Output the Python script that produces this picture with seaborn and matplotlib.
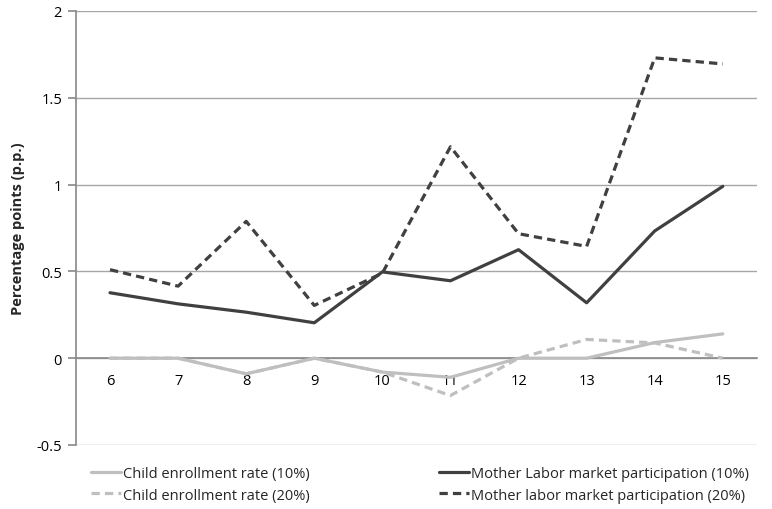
import matplotlib
matplotlib.use("Agg")
import matplotlib.pyplot as plt
import seaborn as sns
import pandas as pd
import numpy as np
from matplotlib.ticker import FixedLocator

ages = [6, 7, 8, 9, 10, 11, 12, 13, 14, 15]
child10 = [0, 0, -0.09, 0, -0.08, -0.11, 0, 0, 0.09, 0.14]
child20 = [0, 0, -0.09, 0, -0.08, -0.215, 0, 0.108, 0.088, 0]
mother10 = [0.377, 0.313, 0.265, 0.204, 0.497, 0.446, 0.625, 0.319, 0.733, 0.99]
mother20 = [0.51, 0.415, 0.788, 0.304, 0.49, 1.218, 0.717, 0.644, 1.73, 1.695]
names = ["Child enrollment rate (10%)", "Child enrollment rate (20%)",
         "Mother Labor market participation (10%)", "Mother labor market participation (20%)"]
yticks = [-0.5, 0, 0.5, 1, 1.5, 2]
ytick_labels = ["-0.5", "0", "0.5", "1", "1.5", "2"]

sns.set_theme(style="white")
plt.rcParams['font.family'] = ['Open Sans', 'DejaVu Sans']

rows = []
for name, vals in zip(names, [child10, child20, mother10, mother20]):
    for a, v in zip(ages, vals):
        rows.append({"age": a, "value": v, "series": name})
df = pd.DataFrame(rows)

light = "#BFBFBF"
dark = "#404040"
palette = {names[0]: light, names[1]: light, names[2]: dark, names[3]: dark}
dashes = {names[0]: "", names[1]: (2.6, 1.6), names[2]: "", names[3]: (2.6, 1.6)}

fig = plt.figure(figsize=(7.72, 5.10), dpi=100)
ax = fig.add_axes([0.0984, 0.1255, 0.882, 0.851])

sns.lineplot(data=df, x="age", y="value", hue="series", style="series",
             hue_order=names, style_order=names, palette=palette, dashes=dashes,
             linewidth=2.3, ax=ax, legend=True)

ax.set_ylim(-0.5, 2)
ax.set_xlim(5.5, 15.5)
ax.set_yticks(yticks)
ax.set_yticklabels(ytick_labels, fontsize=10.5, color="#000000")
ax.yaxis.grid(True, color="#A6A6A6", linewidth=1)
ax.set_axisbelow(True)

for s in ["top", "right"]:
    ax.spines[s].set_visible(False)
ax.spines["left"].set_color("#8C8C8C")
ax.spines["bottom"].set_color("#8C8C8C")
ax.spines["bottom"].set_position(("data", 0))
ax.spines["bottom"].set_zorder(1)

ax.set_xticks(ages)
ax.set_xticklabels([str(a) for a in ages], fontsize=10.5, color="#000000")
ax.xaxis.set_minor_locator(FixedLocator([a + 0.5 for a in ages[:-1]]))
ax.tick_params(axis="x", which="major", length=0, pad=11)
ax.tick_params(axis="x", which="minor", length=5, color="#8C8C8C", direction="out")
ax.tick_params(axis="y", length=6, color="#8C8C8C", direction="out", left=True, pad=4)

ax.set_xlabel("")
ax.set_ylabel("Percentage points (p.p.)", fontsize=10.5, fontweight="bold", labelpad=8)

handles, labels = ax.get_legend_handles_labels()
ax.legend(handles, labels, ncol=2, loc="upper left", bbox_to_anchor=(0.014, -0.035),
          frameon=False, fontsize=10.5, handlelength=2.05, handletextpad=0.1,
          columnspacing=8.9, labelspacing=0.45, borderaxespad=0)

fig.savefig("out.png", dpi=100)
